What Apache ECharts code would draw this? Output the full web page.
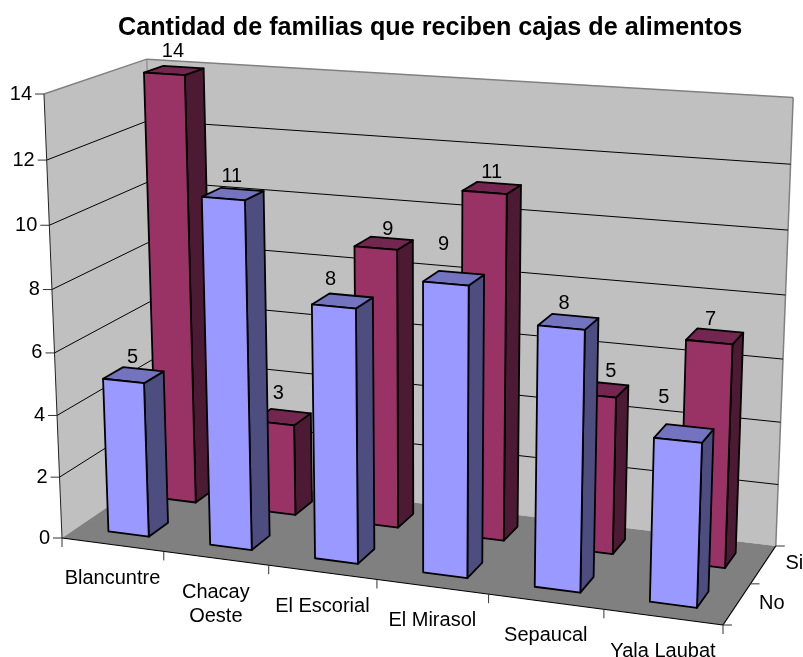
<!DOCTYPE html>
<html>
<head>
<meta charset="utf-8">
<style>
html,body{margin:0;padding:0;background:#fff}
#chart{width:803px;height:657px}
</style>
<script src="https://cdn.jsdelivr.net/npm/echarts@6/dist/echarts.min.js"></script>
</head>
<body>
<div id="chart"></div>
<script>
// data
var categories = ['Blancuntre', 'Chacay\nOeste', 'El Escorial', 'El Mirasol', 'Sepaucal', 'Yala Laubat'];
var noValues = [5, 11, 8, 9, 8, 5];
var siValues = [14, 3, 9, 11, 5, 7];
var depthNames = ['No', 'Si'];
var valueTicks = [0, 2, 4, 6, 8, 10, 12, 14];

// 3D box: screen position of the corners, and perspective weights
var O = [62, 538], EU = [723, 625], EV = [44, 94], EW = [159, 472];
var pa = -0.09, pb = -0.047, pc = 0.0794;
function project(u, v, w) {
    var h = 1 + pa * u + pb * v + pc * w;
    var r = [];
    for (var i = 0; i < 2; i++) {
        r[i] = (O[i] + u * ((1 + pa) * EU[i] - O[i]) + v * ((1 + pb) * EV[i] - O[i]) + w * ((1 + pc) * EW[i] - O[i])) / h;
    }
    return r;
}
// goes through the axes of the (hidden) flat grid, then through the box
function scaled(api, cs, cat, offset, val, w) {
    var c = api.coord([cat, val]);
    var band = api.size([1, 0])[0];
    var u = (c[0] + offset * band - cs.x) / cs.width;
    var v = (cs.y + cs.height - c[1]) / cs.height;
    return project(u, v, w);
}

var FONT = '"Liberation Sans", Arial, sans-serif';
var BAR_L = -0.19, BAR_R = 0.21, DEPTH = 0.2;
// the data labels were moved by hand in the original
var labelNudge = {
    No: { 0: [0, 2], 1: [0, 2], 2: [-11, -2], 3: [-9, -15], 4: [-3, 1], 5: [-19, -17] },
    Si: { 1: [-3, -4], 2: [5, 5], 3: [1, 4], 4: [12, 1], 5: [-3, 2] }
};

function poly(points, fill, stroke, lw) {
    return { type: 'polygon', shape: { points: points }, style: { fill: fill, stroke: stroke, lineWidth: lw === undefined ? 1.8 : lw, lineJoin: 'round' } };
}
function line(a, b, color, lw) {
    return { type: 'line', shape: { x1: a[0], y1: a[1], x2: b[0], y2: b[1] }, style: { stroke: color, lineWidth: lw || 1 } };
}
function label(text, x, y, align, vAlign) {
    return { type: 'text', x: x, y: y, style: { text: text, font: '20px ' + FONT, fill: '#000', align: align || 'center', verticalAlign: vAlign || 'middle', lineHeight: 24 } };
}

function renderFrame(params, api) {
    var cs = params.coordSys;
    var kids = [];
    var a = project(0, 0, 0), b = project(1, 0, 0), c = project(1, 0, 1), d = project(0, 0, 1);
    var a2 = project(0, 1, 0), c2 = project(1, 1, 1), d2 = project(0, 1, 1);
    kids.push(poly([a, a2, d2, d], '#C0C0C0', 'none', 0));
    kids.push(poly([d, d2, c2, c], '#C0C0C0', 'none', 0));
    kids.push(poly([a, b, c, d], '#808080', 'none', 0));
    kids.push(line(a2, d2, '#808080', 1.5));
    kids.push(line(d2, c2, '#808080', 1.5));
    kids.push(line(c2, c, '#808080', 1.5));
    kids.push(line(d2, d, '#808080', 1));

    valueTicks.forEach(function (t) {
        var p0 = scaled(api, cs, 0, -0.5, t, 0);
        var p1 = scaled(api, cs, 0, -0.5, t, 1);
        var p2 = scaled(api, cs, 5, 0.5, t, 1);
        if (t > 0 && t < 14) {
            kids.push(line(p0, p1, '#000'));
            kids.push(line(p1, p2, '#000'));
        }
        kids.push(line([p0[0] - 9, p0[1]], p0, '#333'));
        kids.push(label(String(t), p0[0] - 12, p0[1], 'right'));
    });

    kids.push(line(a2, a, '#222'));
    kids.push(line(a, b, '#000', 1.2));
    kids.push(line(b, c, '#000', 1.2));

    // category ticks
    for (var i = 0; i <= categories.length; i++) {
        var tk = scaled(api, cs, Math.min(i, 5), i > 5 ? 0.5 : -0.5, 0, 0);
        kids.push(line(tk, [tk[0], tk[1] + 9], '#333'));
    }
    categories.forEach(function (name, i) {
        var m = scaled(api, cs, i, 0, 0, 0);
        kids.push(label(name, m[0], m[1] + 22, 'center', 'top'));
    });

    // depth ticks and names
    [0, 0.5, 1].forEach(function (w) {
        var p = project(1, 0, w);
        kids.push(line(p, [p[0] + 9, p[1]], '#333'));
    });
    depthNames.forEach(function (name, i) {
        var p = project(1, 0, 0.25 + i * 0.5);
        kids.push(label(name, p[0] + 22, p[1] - 1, 'left'));
    });
    return { type: 'group', children: kids };
}

function barRenderer(wMid, front, side, top) {
    return function (params, api) {
        var cs = params.coordSys;
        var cat = api.value(0), val = api.value(1);
        var w0 = wMid - DEPTH / 2, w1 = wMid + DEPTH / 2;
        var p = function (off, value, w) { return scaled(api, cs, cat, off, value, w); };
        return {
            type: 'group',
            children: [
                poly([p(BAR_R, 0, w0), p(BAR_R, val, w0), p(BAR_R, val, w1), p(BAR_R, 0, w1)], side, '#000'),
                poly([p(BAR_L, val, w0), p(BAR_L, val, w1), p(BAR_R, val, w1), p(BAR_R, val, w0)], top, '#000'),
                poly([p(BAR_L, 0, w0), p(BAR_L, val, w0), p(BAR_R, val, w0), p(BAR_R, 0, w0)], front, '#000')
            ]
        };
    };
}
function labelRenderer(wMid, key) {
    return function (params, api) {
        var cat = api.value(0), val = api.value(1);
        var pos = scaled(api, params.coordSys, cat, 0, val, wMid);
        var n = labelNudge[key][cat] || [0, 0];
        return label(String(val), pos[0] + n[0], pos[1] - 19 + n[1]);
    };
}
function pairs(values) {
    return values.map(function (v, i) { return [i, v]; });
}

var option = {
    animation: false,
    backgroundColor: '#fff',
    title: {
        text: 'Cantidad de familias que reciben cajas de alimentos',
        left: 113,
        top: 11,
        textStyle: { fontFamily: FONT, fontWeight: 'bold', fontSize: 25.2, color: '#000' }
    },
    grid: { left: 0, right: 0, top: 0, bottom: 0 },
    xAxis: { type: 'category', data: categories, show: false },
    yAxis: { type: 'value', min: 0, max: 14, interval: 2, show: false },
    series: [
        { type: 'custom', name: 'frame', silent: true, data: [[0, 0]], renderItem: renderFrame, clip: false },
        { type: 'custom', name: 'Si', silent: true, data: pairs(siValues), renderItem: barRenderer(0.75, '#993366', '#4D1A33', '#732650') },
        { type: 'custom', name: 'No', silent: true, data: pairs(noValues), renderItem: barRenderer(0.25, '#9999FF', '#4D4D80', '#7373BF') },
        { type: 'custom', name: 'Si labels', silent: true, data: pairs(siValues), renderItem: labelRenderer(0.75, 'Si') },
        { type: 'custom', name: 'No labels', silent: true, data: pairs(noValues), renderItem: labelRenderer(0.25, 'No') }
    ]
};
var myChart = echarts.init(document.getElementById('chart'));
myChart.setOption(option);
</script>
</body>
</html>
